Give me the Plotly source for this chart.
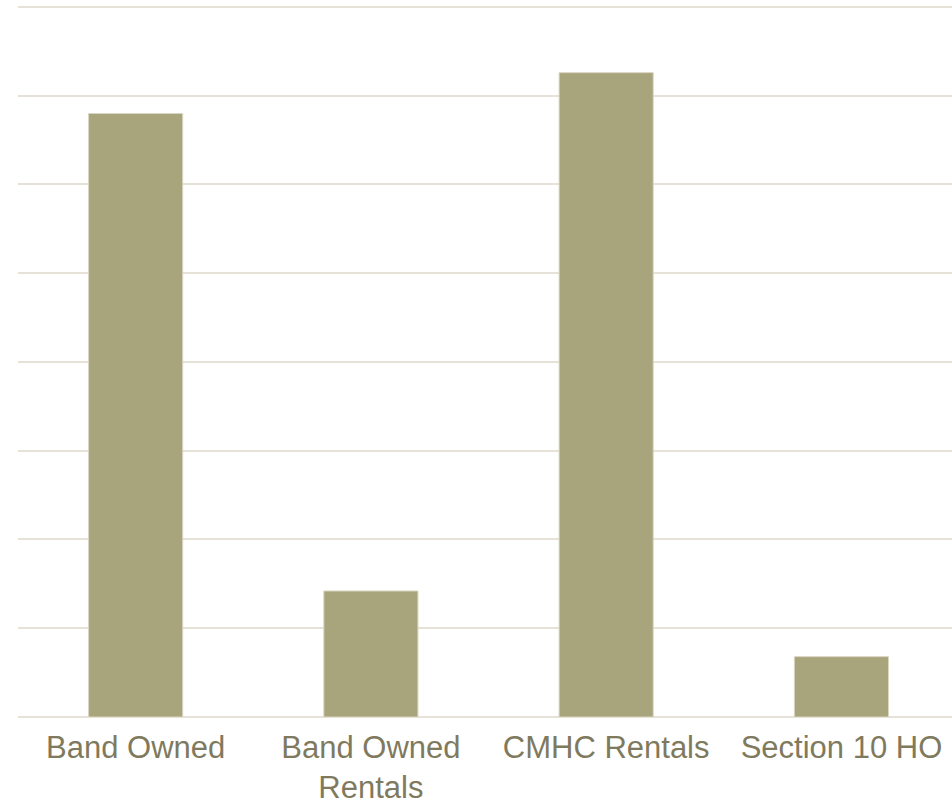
import plotly.graph_objects as go

categories = ["Band Owned", "Band Owned<br>Rentals", "CMHC Rentals", "Section 10 HO"]
values = [68.0, 14.2, 72.6, 6.8]

fig = go.Figure()
fig.add_trace(go.Bar(
    x=categories, y=values, width=0.4,
    marker=dict(color="#A8A47B", line=dict(color="#D9D6C2", width=1)),
    hoverinfo="skip",
))

fig.update_layout(
    width=952, height=807,
    margin=dict(l=18, r=0, t=2, b=90, autoexpand=False),
    paper_bgcolor="white", plot_bgcolor="white",
    showlegend=False,
    font=dict(family="Liberation Sans, Arial, sans-serif", size=31, color="#7F7A5E"),
)
fig.update_xaxes(
    range=[-0.5, 3.47], showgrid=False, showline=False, ticks="",
    tickfont=dict(size=31, color="#7F7A5E"), ticklabelstandoff=9, automargin=False,
)
fig.update_yaxes(
    range=[0, 80.56], dtick=10, showticklabels=False, ticks="",
    showgrid=True, gridcolor="#E6E2D8", gridwidth=1.5, automargin=False,
    zeroline=True, zerolinecolor="#E6E2D8", zerolinewidth=1.5, showline=False,
)

fig.write_html("out.html")
